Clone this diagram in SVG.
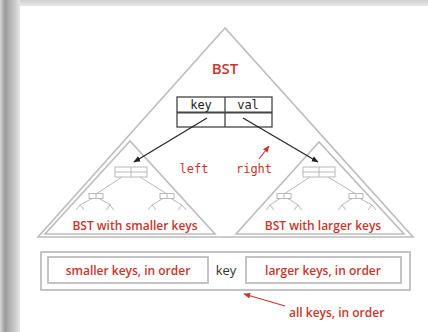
<svg xmlns="http://www.w3.org/2000/svg" width="428" height="332" viewBox="0 0 428 332">
<defs>
<linearGradient id="lg" x1="0" y1="0" x2="1" y2="0">
<stop offset="0" stop-color="#d8d8d8"/>
<stop offset="0.25" stop-color="#9a9a9a"/>
<stop offset="1" stop-color="#e6e6e6"/>
</linearGradient>
<linearGradient id="tg" x1="0" y1="0" x2="0" y2="1">
<stop offset="0" stop-color="#d0d0d0"/>
<stop offset="1" stop-color="#e8e8e8"/>
</linearGradient>
<marker id="ah" viewBox="0 0 10 10" refX="9" refY="5" markerWidth="7" markerHeight="7" orient="auto" markerUnits="userSpaceOnUse">
<path d="M0,1 L10,5 L0,9 z" fill="#222"/>
</marker>
<marker id="ahr" viewBox="0 0 10 10" refX="9" refY="5" markerWidth="7" markerHeight="7" orient="auto" markerUnits="userSpaceOnUse">
<path d="M0,1 L10,5 L0,9 z" fill="#c8372d"/>
</marker>
<style>
.tri{fill:none;stroke:#bdbdbd;stroke-width:1.6}
.box{fill:none;stroke:#c4c4c4;stroke-width:2}
.sm{fill:none;stroke:#b8b8b8;stroke-width:1}
.node{fill:#fff;stroke:#444;stroke-width:1.3}
.red{fill:#c8372d;font-family:"Open Sans","Noto Sans",sans-serif;font-weight:600}
.mono{font-family:"DejaVu Sans Mono","Liberation Mono",monospace;font-size:12px}
.con{stroke:#222;stroke-width:1.2;fill:none}
</style>
</defs>
<rect x="0" y="0" width="428" height="332" fill="#fff"/>
<rect x="0" y="0" width="428" height="6" fill="url(#tg)"/>
<rect x="0" y="0" width="20" height="332" fill="url(#lg)"/>

<g id="bst-outer">
<polygon class="tri" points="225,28 38,237 413,237"/>
<text class="red" x="225" y="74" font-size="15" text-anchor="middle">BST</text>
</g>

<g id="root-node">
<rect class="node" x="177" y="97" width="95" height="30"/>
<line x1="177" y1="112.5" x2="272" y2="112.5" stroke="#444" stroke-width="2"/>
<line x1="225" y1="97" x2="225" y2="127" stroke="#444" stroke-width="1.3"/>
<text class="mono" x="201" y="109" text-anchor="middle" fill="#222">key</text>
<text class="mono" x="248" y="109" text-anchor="middle" fill="#222">val</text>
</g>

<g id="left-subtree">
<polygon class="tri" points="130,141 45,234 215,234"/>
<rect class="sm" x="115" y="167" width="32" height="10"/>
<line class="sm" x1="131" y1="167" x2="131" y2="177"/>
<line class="sm" x1="115" y1="172" x2="147" y2="172"/>
<line class="sm" x1="122" y1="177" x2="96" y2="194"/>
<line class="sm" x1="140" y1="177" x2="167" y2="194"/>
<rect class="sm" x="89" y="193.5" width="14" height="5"/>
<line class="sm" x1="96" y1="193.5" x2="96" y2="198.5"/>
<rect class="sm" x="160" y="193.5" width="14" height="5"/>
<line class="sm" x1="167" y1="193.5" x2="167" y2="198.5"/>
<path class="sm" d="M92,198.5 L80,205 M99,198.5 L111,205 M76,210 L80,205 L84,210 M106,210 L110,205 L114,210"/>
<path class="sm" d="M163,198.5 L152,205 M171,198.5 L182,205 M148,210 L152,205 L156,210 M178,210 L182,205 L186,210"/>
<text class="red" x="135" y="230" font-size="12" text-anchor="middle">BST with smaller keys</text>
</g>

<g id="right-subtree">
<polygon class="tri" points="319,142 236,234 404,234"/>
<rect class="sm" x="303" y="167" width="32" height="10"/>
<line class="sm" x1="319" y1="167" x2="319" y2="177"/>
<line class="sm" x1="303" y1="172" x2="335" y2="172"/>
<line class="sm" x1="310" y1="177" x2="284" y2="194"/>
<line class="sm" x1="328" y1="177" x2="356" y2="194"/>
<rect class="sm" x="277" y="193.5" width="14" height="5"/>
<line class="sm" x1="284" y1="193.5" x2="284" y2="198.5"/>
<rect class="sm" x="349" y="193.5" width="14" height="5"/>
<line class="sm" x1="356" y1="193.5" x2="356" y2="198.5"/>
<path class="sm" d="M280,198.5 L270,205 M288,198.5 L298,205 M266,210 L270,205 L274,210 M294,210 L298,205 L302,210"/>
<path class="sm" d="M352,198.5 L342,205 M360,198.5 L372,205 M338,210 L342,205 L346,210 M368,210 L372,205 L376,210"/>
<text class="red" x="323" y="230" font-size="12" text-anchor="middle">BST with larger keys</text>
</g>

<g id="inorder">
<rect class="box" x="41" y="252" width="369" height="38"/>
<rect class="box" x="48" y="257" width="160" height="26"/>
<rect class="box" x="246" y="257" width="155" height="26"/>
<text class="red" x="128" y="275" font-size="12" text-anchor="middle">smaller keys, in order</text>
<text x="226" y="275" font-size="13" text-anchor="middle" fill="#333" font-family="'Open Sans','Noto Sans',sans-serif">key</text>
<text class="red" x="323" y="275" font-size="12" text-anchor="middle">larger keys, in order</text>
<text class="red" x="289" y="317" font-size="12">all keys, in order</text>
</g>

<g id="connectors">
<line class="con" x1="207" y1="118" x2="134" y2="162" marker-end="url(#ah)"/>
<line class="con" x1="243" y1="118" x2="318" y2="162" marker-end="url(#ah)"/>
<line x1="259" y1="159" x2="269" y2="146" stroke="#c8372d" stroke-width="1.2" marker-end="url(#ahr)"/>
<line x1="285" y1="306" x2="244" y2="294" stroke="#c8372d" stroke-width="1.2" marker-end="url(#ahr)"/>
</g>

<g id="labels">
<text class="mono" x="194" y="173" text-anchor="middle" fill="#c8372d">left</text>
<text class="mono" x="254" y="173" text-anchor="middle" fill="#c8372d">right</text>
</g>
</svg>
